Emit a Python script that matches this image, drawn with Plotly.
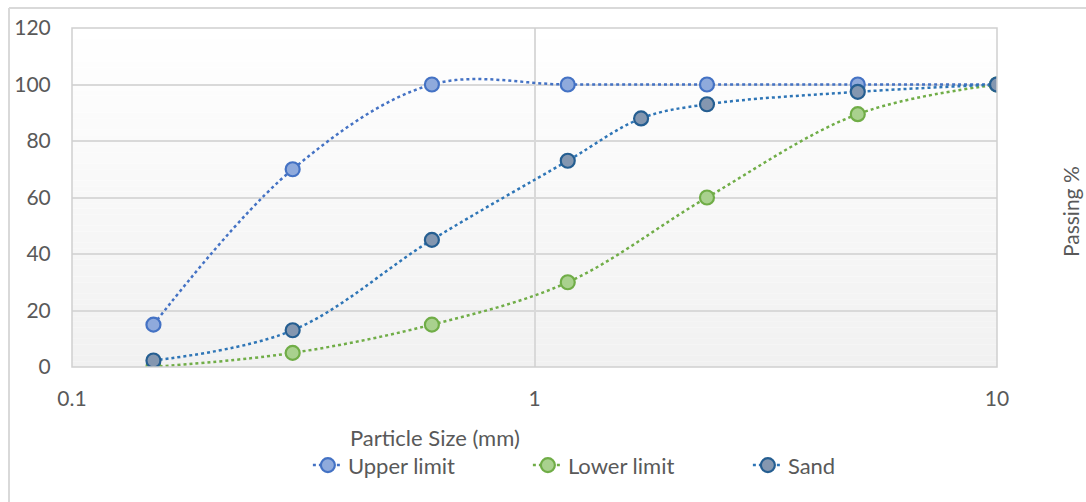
import plotly.graph_objects as go

# Sieve sizes (mm) and cumulative percent passing
sizes_limits = [0.15, 0.3, 0.6, 1.18, 2.36, 5, 10]
upper_limit = [15, 70, 100, 100, 100, 100, 100]
lower_limit = [0, 5, 15, 30, 60, 89.5, 100]

sizes_sand = [0.15, 0.3, 0.6, 1.18, 1.7, 2.36, 5, 10]
sand = [2.3, 13, 45, 73, 88, 93, 97.4, 100]

y_ticks = [0, 20, 40, 60, 80, 100, 120]
x_ticks = [0.1, 1, 10]
x_tick_labels = ["0.1", "1", "10"]

FONT = "Lato, Carlito, Calibri, 'Open Sans', sans-serif"
TEXT_GREY = "#595959"
GRID = "#D9D9D9"

fig = go.Figure()

series = [
    ("Upper limit", sizes_limits, upper_limit, "#4472C4", "#8FAADC", "#4472C4"),
    ("Lower limit", sizes_limits, lower_limit, "#70AD47", "#A9D18E", "#70AD47"),
    ("Sand", sizes_sand, sand, "#2E75B6", "#8497B0", "#255E91"),
]
for name, xs, ys, line_col, fill_col, edge_col in series:
    fig.add_trace(go.Scatter(
        x=xs, y=ys, name=name, mode="lines+markers",
        line=dict(color=line_col, width=2.5, dash="dot", shape="spline", smoothing=1),
        marker=dict(size=14, color=fill_col, line=dict(color=edge_col, width=2.2)),
    ))

# Vertical white-to-grey gradient behind the plot area
n_bands = 60
for i in range(n_bands):
    t = (i + 0.5) / n_bands
    v = round(255 - 14 * (1 - t))
    fig.add_shape(type="rect", xref="x domain", yref="y domain",
                  x0=0, x1=1, y0=i / n_bands, y1=(i + 1) / n_bands,
                  fillcolor=f"rgb({v},{v},{v})", line=dict(width=0), layer="below")

# Plot-area outline
fig.add_shape(type="rect", xref="x domain", yref="y domain", x0=0, x1=1, y0=0, y1=1,
              line=dict(color="#D0D0D0", width=1.5), fillcolor="rgba(0,0,0,0)", layer="above")

# Chart frame (left and top edges)
fig.add_shape(type="line", xref="paper", yref="paper", x0=-0.0681, x1=-0.0681, y0=-0.5, y1=1.059,
              line=dict(color="#D9D9D9", width=2))
fig.add_shape(type="line", xref="paper", yref="paper", x0=-0.0681, x1=1.2, y0=1.059, y1=1.059,
              line=dict(color="#D9D9D9", width=2))

fig.update_xaxes(
    type="log", range=[-1, 1], tickvals=x_ticks, ticktext=x_tick_labels,
    showgrid=True, gridcolor=GRID, gridwidth=1.5,
    ticks="outside", ticklen=13, tickcolor="rgba(0,0,0,0)",
    tickfont=dict(family=FONT, size=21, color=TEXT_GREY),
    showline=False, zeroline=False,
)
fig.update_yaxes(
    range=[0, 120], tickvals=y_ticks,
    showgrid=True, gridcolor=GRID, gridwidth=1.5,
    ticks="outside", ticklen=16, tickcolor="rgba(0,0,0,0)",
    tickfont=dict(family=FONT, size=21, color=TEXT_GREY),
    showline=False, zeroline=False,
)

fig.add_annotation(text="Particle Size (mm)", xref="paper", yref="paper",
                   x=0.392, y=-0.2065, xanchor="center", yanchor="middle", showarrow=False,
                   font=dict(family=FONT, size=22, color=TEXT_GREY))
fig.add_annotation(text="Passing %", xref="paper", yref="paper",
                   x=1.0789, y=0.46, xanchor="center", yanchor="middle",
                   textangle=-90, showarrow=False,
                   font=dict(family=FONT, size=21, color=TEXT_GREY))

fig.update_layout(
    width=1086, height=502,
    margin=dict(l=72, r=89, t=28, b=135),
    paper_bgcolor="white", plot_bgcolor="white",
    legend=dict(orientation="h", x=0.255, xanchor="left", y=-0.29, yanchor="middle",
                font=dict(family=FONT, size=22, color=TEXT_GREY),
                entrywidth=175, bgcolor="rgba(0,0,0,0)"),
    showlegend=True,
)

fig.write_html("out.html")
